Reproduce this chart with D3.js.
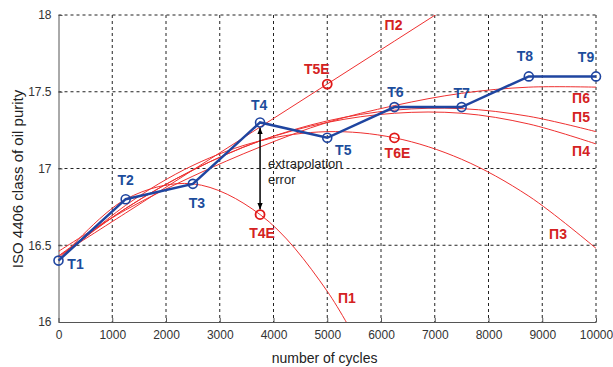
<!DOCTYPE html>
<html>
<head>
<meta charset="utf-8">
<script src="https://cdn.jsdelivr.net/npm/d3@7"></script>
<style>
  body { margin: 0; background: #fff; }
  text { font-family: "Liberation Sans", Arial, sans-serif; }
</style>
</head>
<body>
<div class="canvas"></div>
<script>
// measured points
var cycles = [0, 1250, 2500, 3750, 5000, 6250, 7500, 8750, 10000];
var measured = [16.4, 16.8, 16.9, 17.3, 17.2, 17.4, 17.4, 17.6, 17.6];
var measuredLabels = ["T1", "T2", "T3", "T4", "T5", "T6", "T7", "T8", "T9"];

// extrapolated points
var extrapCycles = [3750, 5000, 6250];
var extrapValues = [16.7, 17.55, 17.2];
var extrapLabels = ["T4E", "T5E", "T6E"];

// fitted trend curves, read at every 1250 cycles
var fitP1 = [16.4, 16.8, 16.9, 16.7, 16.2, 15.4];
var fitP2 = [16.43, 16.71, 16.99, 17.27, 17.55, 17.83, 18.11, 18.39, 18.67];
var fitP3 = [16.40, 16.76, 17.02, 17.18, 17.24, 17.20, 17.06, 16.82, 16.48];
var fitP4 = [16.42, 16.74, 16.99, 17.18, 17.30, 17.36, 17.36, 17.29, 17.16];
var fitP5 = [16.43, 16.74, 16.99, 17.18, 17.31, 17.38, 17.39, 17.34, 17.24];
var fitP6 = [16.46, 16.73, 16.95, 17.14, 17.30, 17.41, 17.49, 17.53, 17.53];
var fitNames = ["П1", "П2", "П3", "П4", "П5", "П6"];

var xTicks = [0, 1000, 2000, 3000, 4000, 5000, 6000, 7000, 8000, 9000, 10000];
var yTicks = [16, 16.5, 17, 17.5, 18];

var margin = {top: 15, right: 17, bottom: 45, left: 58.5},
    width = 613 - margin.left - margin.right,
    height = 367 - margin.top - margin.bottom;

var blue = "#1f45a0", blueText = "#1c4d9c", red = "#ee3030", redText = "#d42222";

var svg = d3.select(".canvas")
  .append("svg")
    .attr("width", 613)
    .attr("height", 367)
  .append("g")
    .attr("transform", `translate(${margin.left},${margin.top})`);

var x = d3.scaleLinear().domain([0, 10000]).range([0, width]);
var y = d3.scaleLinear().domain([16, 18]).range([height, 0]);

// grid
svg.selectAll(".vgrid")
  .data(xTicks.slice(1))
  .enter().append("line")
    .attr("x1", d => x(d)).attr("x2", d => x(d))
    .attr("y1", 0).attr("y2", height)
    .attr("stroke", "#222").attr("stroke-width", 1)
    .attr("stroke-dasharray", "3,3");
svg.selectAll(".hgrid")
  .data(yTicks.slice(1))
  .enter().append("line")
    .attr("x1", 0).attr("x2", width)
    .attr("y1", d => y(d)).attr("y2", d => y(d))
    .attr("stroke", "#222").attr("stroke-width", 1)
    .attr("stroke-dasharray", "3,3");

// axes
var xAxis = svg.append("g")
  .attr("transform", "translate(0," + height + ")")
  .call(d3.axisBottom(x).tickValues(xTicks).tickFormat(d3.format("d")).tickSizeInner(-4).tickSizeOuter(0).tickPadding(8));
var yAxis = svg.append("g")
  .call(d3.axisLeft(y).tickValues(yTicks).tickFormat(d => d).tickSizeInner(-4).tickSizeOuter(0).tickPadding(7));
[xAxis, yAxis].forEach(function (a) {
  a.select(".domain").attr("stroke", "#555");
  a.selectAll(".tick line").attr("stroke", "#555");
  a.selectAll("text")
    .style("font-family", "'Liberation Sans', Arial, sans-serif")
    .style("font-size", "12px")
    .attr("fill", "#333");
});

// axis titles
svg.append("text")
  .attr("x", x(4950))
  .attr("y", height + 41)
  .attr("text-anchor", "middle")
  .style("font-size", "14px")
  .attr("fill", "#222")
  .text("number of cycles");
svg.append("text")
  .attr("transform", "rotate(-90)")
  .attr("x", -(179 - margin.top))
  .attr("y", -36)
  .attr("text-anchor", "middle")
  .style("font-size", "15px")
  .attr("fill", "#222")
  .text("ISO 4406 class of oil purity");

// clip
svg.append("clipPath").attr("id", "plotclip")
  .append("rect").attr("width", width).attr("height", height);

var fits = [fitP1, fitP2, fitP3, fitP4, fitP5, fitP6];
var curve = d3.line()
  .x((d, i) => x(cycles[i]))
  .y(d => y(d))
  .curve(d3.curveCatmullRom);

svg.append("g").attr("clip-path", "url(#plotclip)")
  .selectAll("path")
  .data(fits)
  .enter().append("path")
    .attr("d", curve)
    .attr("fill", "none")
    .attr("stroke", red)
    .attr("stroke-width", 1);

// fit labels (anchor in data units)
var fitLabelX = [5367, 6233, 9293, 9721, 9721, 9721];
var fitLabelY = [16.156, 17.935, 16.571, 17.116, 17.337, 17.461];
svg.selectAll(".fitlab")
  .data(fitNames)
  .enter().append("text")
    .attr("x", (d, i) => x(fitLabelX[i]))
    .attr("y", (d, i) => y(fitLabelY[i]))
    .attr("text-anchor", "middle")
    .attr("dominant-baseline", "central")
    .style("font-size", "14px")
    .style("font-weight", "bold")
    .attr("fill", redText)
    .text(d => d);

// extrapolation error arrow
var defs = svg.append("defs");
defs.append("marker")
    .attr("id", "arrow")
    .attr("viewBox", "0 0 10 10")
    .attr("refX", 10).attr("refY", 5)
    .attr("markerWidth", 7).attr("markerHeight", 7)
    .attr("markerUnits", "userSpaceOnUse")
    .attr("orient", "auto-start-reverse")
  .append("path")
    .attr("d", "M0,1 L10,5 L0,9 Z")
    .attr("fill", "#000");
svg.append("line")
  .attr("x1", x(3750)).attr("x2", x(3750))
  .attr("y1", y(17.3) + 5).attr("y2", y(16.7) - 5)
  .attr("stroke", "#000").attr("stroke-width", 1.5)
  .attr("marker-start", "url(#arrow)")
  .attr("marker-end", "url(#arrow)");
svg.append("text")
  .attr("x", x(3750) + 8).attr("y", y(17.3) + 41)
  .attr("dominant-baseline", "central")
  .style("font-size", "13px").attr("fill", "#222")
  .text("extrapolation");
svg.append("text")
  .attr("x", x(3750) + 8).attr("y", y(17.3) + 57)
  .attr("dominant-baseline", "central")
  .style("font-size", "13px").attr("fill", "#222")
  .text("error");

// extrapolated markers
svg.selectAll(".ext")
  .data(extrapValues)
  .enter().append("circle")
    .attr("cx", (d, i) => x(extrapCycles[i]))
    .attr("cy", d => y(d))
    .attr("r", 4.5)
    .attr("fill", "none")
    .attr("stroke", "#e01818")
    .attr("stroke-width", 1.8);

// measured line
var line = d3.line()
  .x((d, i) => x(cycles[i]))
  .y(d => y(d));
svg.append("path")
  .datum(measured)
  .attr("d", line)
  .attr("fill", "none")
  .attr("stroke", blue)
  .attr("stroke-width", 2.5);
svg.selectAll(".pt")
  .data(measured)
  .enter().append("circle")
    .attr("cx", (d, i) => x(cycles[i]))
    .attr("cy", d => y(d))
    .attr("r", 4.5)
    .attr("fill", "none")
    .attr("stroke", blue)
    .attr("stroke-width", 1.6);

// point labels
var tdx = [17, 0, 4, -1, 16, 1, 0, -4, -10];
var tdy = [3.5, -19, 19, -17.5, 12, -15.5, -14.5, -20, -19.5];
svg.selectAll(".tlab")
  .data(measuredLabels)
  .enter().append("text")
    .attr("x", (d, i) => x(cycles[i]) + tdx[i])
    .attr("y", (d, i) => y(measured[i]) + tdy[i])
    .attr("text-anchor", "middle")
    .attr("dominant-baseline", "central")
    .style("font-size", "14px")
    .style("font-weight", "bold")
    .attr("fill", blueText)
    .text(d => d);

var edx = [2, -10.5, 3];
var edy = [18.5, -15, 15.5];
svg.selectAll(".elab")
  .data(extrapLabels)
  .enter().append("text")
    .attr("x", (d, i) => x(extrapCycles[i]) + edx[i])
    .attr("y", (d, i) => y(extrapValues[i]) + edy[i])
    .attr("text-anchor", "middle")
    .attr("dominant-baseline", "central")
    .style("font-size", "14px")
    .style("font-weight", "bold")
    .attr("fill", redText)
    .text(d => d);
</script>
</body>
</html>
